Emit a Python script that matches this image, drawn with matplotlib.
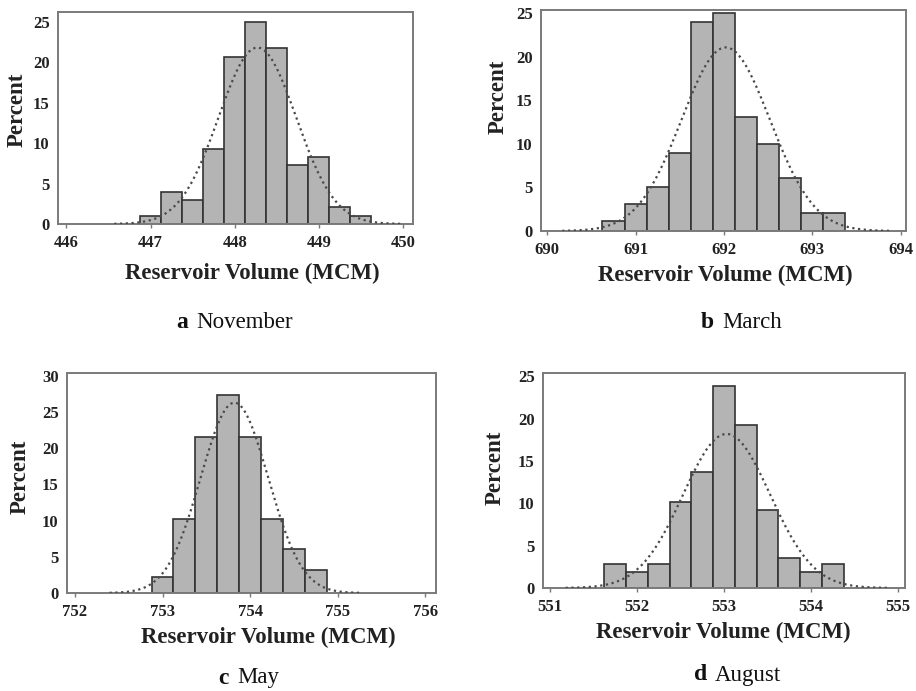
import numpy as np
import matplotlib
matplotlib.use("Agg")
import matplotlib.pyplot as plt

plt.rcParams['font.family'] = ['Liberation Serif', 'DejaVu Serif']

BIN_WIDTH = 0.25  # MCM per histogram class

# reservoir volume histograms (bin midpoints, percent of runs in each bin)
nov_mid = [447.0, 447.25, 447.5, 447.75, 448.0, 448.25, 448.5, 448.75, 449.0, 449.25, 449.5]
nov_pct = [1.0, 4.0, 3.0, 9.3, 20.7, 25.0, 21.8, 7.3, 8.3, 2.1, 1.0]
nov_fit = (448.27, 0.46, 21.8)  # mean, std dev, peak of fitted normal (percent)

mar_mid = [690.75, 691.0, 691.25, 691.5, 691.75, 692.0, 692.25, 692.5, 692.75, 693.0, 693.25]
mar_pct = [1.1, 3.1, 5.0, 9.0, 24.0, 25.0, 13.1, 10.0, 6.1, 2.1, 2.1]
mar_fit = (692.02, 0.50, 21.1)

may_mid = [753.0, 753.25, 753.5, 753.75, 754.0, 754.25, 754.5, 754.75]
may_pct = [2.2, 10.2, 21.5, 27.4, 21.5, 10.2, 6.1, 3.2]
may_fit = (753.82, 0.385, 26.3)

aug_mid = [551.75, 552.0, 552.25, 552.5, 552.75, 553.0, 553.25, 553.5, 553.75, 554.0, 554.25]
aug_pct = [2.8, 1.85, 2.8, 10.2, 13.7, 23.9, 19.2, 9.25, 3.6, 1.85, 2.8]
aug_fit = (553.03, 0.50, 18.2)

letters = ['a', 'b', 'c', 'd']
months = ['November', 'March', 'May', 'August']
x_ticks = [[446, 447, 448, 449, 450], [690, 691, 692, 693, 694],
           [752, 753, 754, 755, 756], [551, 552, 553, 554, 555]]
y_ticks = [[0, 5, 10, 15, 20, 25], [0, 5, 10, 15, 20, 25],
           [0, 5, 10, 15, 20, 25, 30], [0, 5, 10, 15, 20, 25]]

panels = [(nov_mid, nov_pct, nov_fit), (mar_mid, mar_pct, mar_fit),
          (may_mid, may_pct, may_fit), (aug_mid, aug_pct, aug_fit)]

W, H = 916, 691

# layout in pixels: axes box (left, top, right, bottom), axis limits,
# x-label centre, y-label centre, caption split point
layout = [
    dict(box=(58, 12, 413, 224), xlim=(445.9, 450.12), ylim=(0, 26.2),
         xlab=(252, 273), ylab=(17, 110), cap=(192, 322)),
    dict(box=(541, 10, 906, 231), xlim=(689.93, 694.06), ylim=(0, 25.4),
         xlab=(725, 275), ylab=(498, 97), cap=(718, 322)),
    dict(box=(67, 373, 436, 593), xlim=(751.91, 756.12), ylim=(0, 30.4),
         xlab=(268, 637), ylab=(20, 477), cap=(233, 678)),
    dict(box=(543, 373, 905, 588), xlim=(550.92, 555.08), ylim=(0, 25.4),
         xlab=(723, 632), ylab=(495, 468), cap=(711, 675)),
]

fig = plt.figure(figsize=(W / 100, H / 100), dpi=100)
fig.patch.set_facecolor('white')

for i, ((mid, pct, fit), lay) in enumerate(zip(panels, layout)):
    l, t, r, b = lay['box']
    ax = fig.add_axes([l / W, 1 - b / H, (r - l) / W, (b - t) / H])

    ax.bar(mid, pct, width=BIN_WIDTH, color='#b4b4b4', edgecolor='#333333',
           linewidth=1.2, zorder=2)

    mu, sd, peak = fit
    xs = np.linspace(mu - 3.7 * sd, mu + 3.7 * sd, 300)
    ax.plot(xs, peak * np.exp(-0.5 * ((xs - mu) / sd) ** 2), color='#4a4a4a',
            linestyle=(0, (1, 1.6)), linewidth=1.6, zorder=3)

    ax.set_xlim(*lay['xlim'])
    ax.set_ylim(*lay['ylim'])
    ax.set_xticks(x_ticks[i])
    ax.set_yticks(y_ticks[i])
    for s in ax.spines.values():
        s.set_color('#7a7a7a')
        s.set_linewidth(1.4)
    ax.tick_params(axis='x', length=3, width=1, color='#7a7a7a', pad=5,
                   labelsize=12, labelcolor='#222222')
    ax.tick_params(axis='y', length=0, pad=6, labelsize=12, labelcolor='#222222')
    for lbl in ax.get_xticklabels() + ax.get_yticklabels():
        lbl.set_fontweight('bold')

    # axis titles
    fig.text(lay['xlab'][0] / W, 1 - lay['xlab'][1] / H, 'Reservoir Volume (MCM)',
             ha='center', va='center', fontsize=16.5, fontweight='bold', color='#222222')
    fig.text(lay['ylab'][0] / W, 1 - lay['ylab'][1] / H, 'Percent', rotation=90,
             ha='center', va='center', fontsize=16.5, fontweight='bold', color='#222222')

    # panel caption: bold letter followed by the month
    cx, cy = lay['cap']
    fig.text((cx - 4) / W, 1 - cy / H, letters[i], ha='right', va='center',
             fontsize=17, fontweight='bold', color='#111111')
    fig.text((cx + 4) / W, 1 - cy / H, months[i], ha='left', va='center',
             fontsize=16.5, color='#111111')

fig.savefig('out.png', dpi=100)
